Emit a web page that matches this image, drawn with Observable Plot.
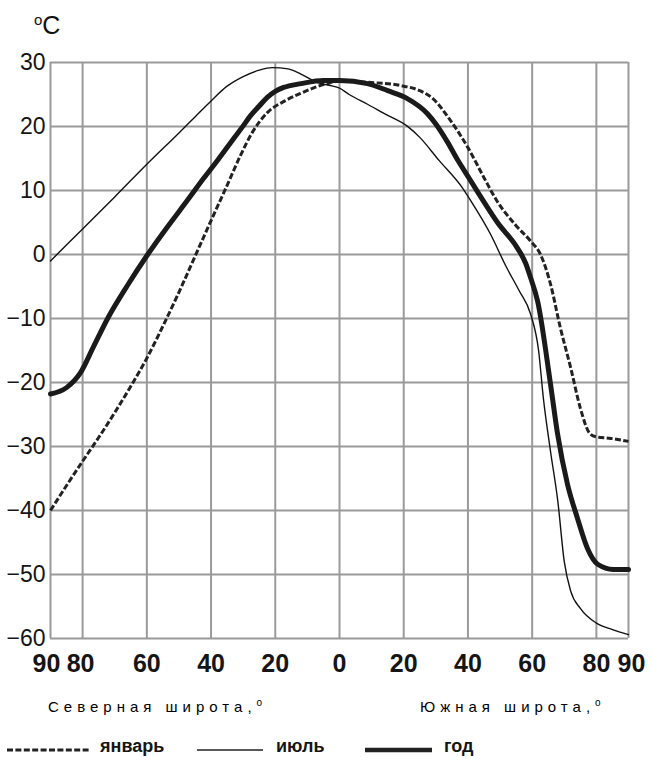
<!DOCTYPE html>
<html><head><meta charset="utf-8">
<script src="https://cdn.jsdelivr.net/npm/d3@7"></script>
<script src="https://cdn.jsdelivr.net/npm/@observablehq/plot@0.6"></script>
<style>
body{margin:0;background:#fff;}
#wrap{position:relative;width:652px;height:766px;font-family:"Liberation Sans",Arial,sans-serif;color:#111;overflow:hidden;}
#chart{position:absolute;left:0;top:0;}
.abs{position:absolute;white-space:nowrap;}
.unit{left:34px;top:5px;font-size:25px;line-height:30px;}
.unit sup{font-size:15px;vertical-align:9px;margin-right:0px;}
.ttl{top:695px;font-size:15px;line-height:15px;letter-spacing:5px;color:#000;}
.ttl sup{font-size:10px;vertical-align:6px;}
.leg{top:737px;font-size:18px;line-height:18px;font-weight:bold;color:#151515;}
</style></head><body>
<div id="wrap">
<div id="chart"></div>
<div class="abs unit"><sup>o</sup>C</div>
<div class="abs ttl" style="left:48px">Северная широта,<sup>o</sup></div>
<div class="abs ttl" style="left:420px">Южная широта,<sup>o</sup></div>
<svg class="abs" style="left:0;top:740px" width="652" height="22">
  <line x1="7" x2="90" y1="10" y2="10" stroke="#222" stroke-width="3" stroke-dasharray="6,2.4"/>
  <line x1="197" x2="263" y1="10" y2="10" stroke="#222" stroke-width="1.4"/>
  <line x1="365" x2="432" y1="10" y2="10" stroke="#222" stroke-width="4.5"/>
</svg>
<div class="abs leg" style="left:100px">январь</div>
<div class="abs leg" style="left:276px">июль</div>
<div class="abs leg" style="left:444px">год</div>
</div>
<script>
// Latitude: negative = northern, positive = southern
const xTicks = [-90, -80, -60, -40, -20, 0, 20, 40, 60, 80, 90];
const yTicks = [-60, -50, -40, -30, -20, -10, 0, 10, 20, 30];

const latJan = [-90,-85,-80,-75,-70,-65,-60,-55,-50,-45,-40,-35,-31,-27,-22.4,-17,-12,-4,0,9,19,25,29,34.6,40,45,49,55,59.5,62.6,65.7,68.8,72,75,78,80,84,90];
const tJan   = [-40,-36.1,-32.3,-28.6,-24.7,-20.6,-16.2,-11.2,-5.9,-0.3,5.3,10.8,15.3,19.2,22.2,24,25.2,26.7,27.1,26.9,26.4,25.6,24.4,20.9,16.7,12,8.4,4.5,2.1,0,-4.6,-11.5,-17.7,-24,-28,-28.5,-28.7,-29.2];

const latJul = [-90,-80,-70,-60,-50,-45,-40,-35,-30,-25,-21,-16,-12,-7,-2,0,3,9,14,21,25,31,38,41,47,52,56,59.5,62,63.5,65.7,68,70,72,75,80,85,90];
const tJul   = [-1,4,9,14.1,19,21.5,24,26.3,27.8,28.8,29.2,29,28.2,26.9,26.3,26,25,23.4,22,20.1,18.3,14.7,10.6,8.3,3.2,-2,-5.7,-9.3,-15,-22.5,-30.7,-38.6,-48,-52.6,-55.3,-57.6,-58.6,-59.4];

const latYear = [-90,-85,-80.7,-76.6,-72,-66,-60,-53.6,-47.3,-42.3,-40,-38,-33,-30,-27.7,-25,-22.4,-20,-17.4,-12,-5,0,8.7,15,21,27.4,30,33.6,37,40,43.5,49.2,55.4,58,59.5,61.7,65.7,67.9,71,74.1,77.2,80.4,85.3,90];
const tYear   = [-21.8,-20.8,-18.5,-14.4,-9.8,-4.8,-0.2,4.3,8.5,11.9,13.4,14.7,18.1,20.1,21.7,23.2,24.6,25.5,26.1,26.7,27.2,27.2,26.7,25.6,24.4,22,20.4,17.6,14.6,12.2,9.4,5,1,-1.4,-3.6,-7.3,-20.2,-28,-35.9,-41.2,-45.9,-48.4,-49.2,-49.2];

const toRows = (lat, t) => lat.map((d, i) => ({lat: d, t: t[i]}));
const jan = toRows(latJan, tJan), jul = toRows(latJul, tJul), year = toRows(latYear, tYear);

const gridStyle = {stroke: "#9a9a9a", strokeOpacity: 1, strokeWidth: 2};
const xFont = {fontSize: 25, fontWeight: "bold", tickSize: 0, tickPadding: 16, label: null, tickFormat: d => Math.abs(d), fill: "#151515"};

const chart = Plot.plot({
  width: 652, height: 690,
  marginLeft: 50, marginRight: 24, marginTop: 62, marginBottom: 52,
  x: {domain: [-90, 90]},
  y: {domain: [-60, 30]},
  style: {background: "#fff", fontFamily: "'Liberation Sans',Arial,sans-serif", overflow: "visible"},
  marks: [
    Plot.gridX(xTicks, gridStyle),
    Plot.gridY(yTicks, gridStyle),
    Plot.axisY(yTicks, {tickSize: 0, tickPadding: 5, fontSize: 23, label: null, fill: "#151515"}),
    Plot.axisX([-60, -40, -20, 0, 20, 40, 60], xFont),
    Plot.axisX([-90], {...xFont, dx: -4}),
    Plot.axisX([-80], {...xFont, dx: -2}),
    Plot.axisX([80], {...xFont, dx: 0}),
    Plot.axisX([90], {...xFont, dx: 3}),
    Plot.line(jan, {x: "lat", y: "t", curve: "monotone-x", stroke: "#222", strokeWidth: 3, strokeDasharray: "6,2.4", strokeLinecap: "butt"}),
    Plot.line(jul, {x: "lat", y: "t", curve: "monotone-x", stroke: "#111", strokeWidth: 1.4}),
    Plot.line(year, {x: "lat", y: "t", curve: "monotone-x", stroke: "#1a1a1a", strokeWidth: 5})
  ]
});
document.getElementById("chart").appendChild(chart);
</script>
</body></html>
